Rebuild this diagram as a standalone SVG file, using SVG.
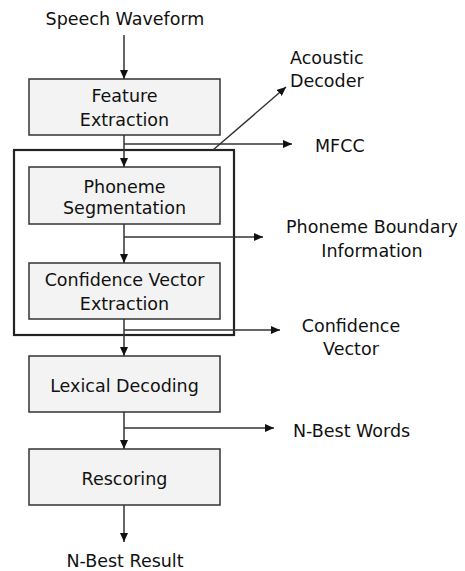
<svg xmlns="http://www.w3.org/2000/svg" width="465" height="571" viewBox="0 0 465 571">
<style>
text{font-family:"DejaVu Sans","Liberation Sans",sans-serif;font-size:17.5px;fill:#111}
.c{text-anchor:middle}
.box{fill:#f3f3f3;stroke:#333;stroke-width:1.5}
.ln{fill:none;stroke:#333;stroke-width:1.5}
</style>
<defs>
<marker id="ah" markerUnits="userSpaceOnUse" markerWidth="10" markerHeight="8" refX="9" refY="4" orient="auto">
<path d="M0,0 L9,4 L0,8 z" fill="#111"/>
</marker>
</defs>
<rect width="465" height="571" fill="#fff"/>
<g id="group-outer"><rect x="14" y="150" width="220" height="185" fill="none" stroke="#222" stroke-width="2.2"/></g>
<g id="connectors">
<path class="ln" d="M124,35 V79" marker-end="url(#ah)"/>
<path class="ln" d="M124,135 V167" marker-end="url(#ah)"/>
<path class="ln" d="M124,144 H292" marker-end="url(#ah)"/>
<path class="ln" d="M213,150 L286,87" marker-end="url(#ah)"/>
<path class="ln" d="M124,224 V263" marker-end="url(#ah)"/>
<path class="ln" d="M124,237 H263" marker-end="url(#ah)"/>
<path class="ln" d="M124,319 V356" marker-end="url(#ah)"/>
<path class="ln" d="M124,330 H280" marker-end="url(#ah)"/>
<path class="ln" d="M124,412 V449" marker-end="url(#ah)"/>
<path class="ln" d="M124,428 H274" marker-end="url(#ah)"/>
<path class="ln" d="M124,505 V542" marker-end="url(#ah)"/>
</g>
<g id="speech-waveform"><text class="c" x="125" y="25">Speech Waveform</text></g>
<g id="feature-extraction"><rect class="box" x="29" y="79" width="191" height="56"/><text class="c" x="124.5" y="102">Feature</text><text class="c" x="124.5" y="126">Extraction</text></g>
<g id="acoustic-decoder"><text x="290" y="64">Acoustic</text><text x="290" y="87">Decoder</text></g>
<g id="mfcc"><text x="315" y="152">MFCC</text></g>
<g id="phoneme-segmentation"><rect class="box" x="29" y="167" width="191" height="57"/><text class="c" x="124.5" y="193">Phoneme</text><text class="c" x="124.5" y="214">Segmentation</text></g>
<g id="phoneme-boundary"><text class="c" x="372" y="233">Phoneme Boundary</text><text class="c" x="372" y="257">Information</text></g>
<g id="confidence-vector-extraction"><rect class="box" x="29" y="263" width="191" height="56"/><text class="c" x="124.5" y="286">Confidence Vector</text><text class="c" x="124.5" y="310">Extraction</text></g>
<g id="confidence-vector"><text class="c" x="351" y="332">Confidence</text><text class="c" x="351" y="355">Vector</text></g>
<g id="lexical-decoding"><rect class="box" x="29" y="356" width="191" height="56"/><text class="c" x="124.5" y="392">Lexical Decoding</text></g>
<g id="n-best-words"><text x="293" y="437">N-Best Words</text></g>
<g id="rescoring"><rect class="box" x="29" y="449" width="191" height="56"/><text class="c" x="124.5" y="485">Rescoring</text></g>
<g id="n-best-result"><text class="c" x="125" y="567">N-Best Result</text></g>
</svg>
